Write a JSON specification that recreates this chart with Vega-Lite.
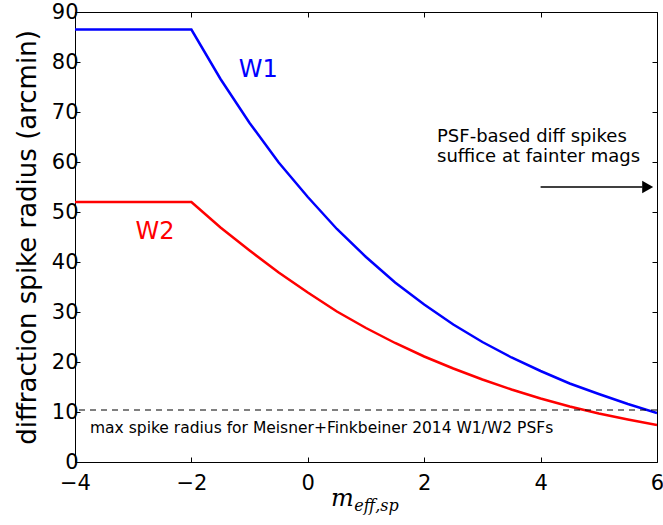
{
  "$schema": "https://vega.github.io/schema/vega-lite/v6.json",
  "width": 582,
  "height": 450,
  "autosize": {"type": "none"},
  "padding": {"left": 75, "top": 12, "right": 6, "bottom": 63},
  "background": "white",
  "config": {
    "view": {"stroke": "black", "strokeWidth": 1},
    "font": "DejaVu Sans",
    "axis": {
      "domain": false,
      "grid": false,
      "tickColor": "black",
      "tickSize": -5,
      "tickWidth": 1,
      "labelFont": "DejaVu Sans",
      "labelFontSize": 21,
      "labelColor": "black",
      "titleFont": "DejaVu Sans",
      "titleColor": "black",
      "titleFontWeight": "normal"
    }
  },
  "resolve": {"axis": {"x": "independent", "y": "independent"}},
  "layer": [
    {
      "data": {
        "values": [
          {"band": "W1", "m": -4, "r": 86.5},
          {"band": "W1", "m": -2, "r": 86.5},
          {"band": "W1", "m": -1.5, "r": 76.6},
          {"band": "W1", "m": -1, "r": 67.8},
          {"band": "W1", "m": -0.5, "r": 59.9},
          {"band": "W1", "m": 0, "r": 53.0},
          {"band": "W1", "m": 0.5, "r": 46.6},
          {"band": "W1", "m": 1, "r": 41.0},
          {"band": "W1", "m": 1.5, "r": 35.9},
          {"band": "W1", "m": 2, "r": 31.5},
          {"band": "W1", "m": 2.5, "r": 27.5},
          {"band": "W1", "m": 3, "r": 24.0},
          {"band": "W1", "m": 3.5, "r": 20.9},
          {"band": "W1", "m": 4, "r": 18.2},
          {"band": "W1", "m": 4.5, "r": 15.7},
          {"band": "W1", "m": 5, "r": 13.6},
          {"band": "W1", "m": 5.5, "r": 11.6},
          {"band": "W1", "m": 6, "r": 9.8},
          {"band": "W2", "m": -4, "r": 52.0},
          {"band": "W2", "m": -2, "r": 52.0},
          {"band": "W2", "m": -1.5, "r": 46.9},
          {"band": "W2", "m": -1, "r": 42.3},
          {"band": "W2", "m": -0.5, "r": 37.9},
          {"band": "W2", "m": 0, "r": 33.9},
          {"band": "W2", "m": 0.5, "r": 30.1},
          {"band": "W2", "m": 1, "r": 26.8},
          {"band": "W2", "m": 1.5, "r": 23.8},
          {"band": "W2", "m": 2, "r": 21.1},
          {"band": "W2", "m": 2.5, "r": 18.7},
          {"band": "W2", "m": 3, "r": 16.5},
          {"band": "W2", "m": 3.5, "r": 14.5},
          {"band": "W2", "m": 4, "r": 12.7},
          {"band": "W2", "m": 4.5, "r": 11.1},
          {"band": "W2", "m": 5, "r": 9.7},
          {"band": "W2", "m": 5.5, "r": 8.5},
          {"band": "W2", "m": 6, "r": 7.4}
        ]
      },
      "mark": {"type": "line", "strokeWidth": 2.5, "interpolate": "linear", "clip": true},
      "encoding": {
        "x": {
          "field": "m", "type": "quantitative",
          "scale": {"domain": [-4, 6], "nice": false},
          "axis": {"orient": "bottom", "values": [-4, -2, 0, 2, 4, 6], "title": null, "labelPadding": 15, "labelFlush": false}
        },
        "y": {
          "field": "r", "type": "quantitative",
          "scale": {"domain": [0, 90], "nice": false},
          "axis": {"orient": "left", "values": [0, 10, 20, 30, 40, 50, 60, 70, 80, 90], "title": "diffraction spike radius (arcmin)", "titleFontSize": 26, "labelPadding": 2, "titlePadding": 11}
        },
        "color": {"field": "band", "type": "nominal", "scale": {"domain": ["W1", "W2"], "range": ["#0000ff", "#ff0000"]}, "legend": null}
      }
    },
    {
      "data": {"values": [{"r": 10.4}]},
      "mark": {"type": "rule", "strokeDash": [6, 5], "strokeWidth": 1.2, "color": "black"},
      "encoding": {
        "y": {"field": "r", "type": "quantitative", "axis": {"orient": "right", "values": [0, 10, 20, 30, 40, 50, 60, 70, 80, 90], "labels": false, "title": null}}
      }
    },
    {
      "data": {"values": [{"m": 4.0, "r": 55.0}, {"m": 5.75, "r": 55.0}]},
      "mark": {"type": "line", "strokeWidth": 1.5, "color": "black"},
      "encoding": {
        "x": {"field": "m", "type": "quantitative", "axis": {"orient": "top", "values": [-4, -2, 0, 2, 4, 6], "labels": false, "title": null}},
        "y": {"field": "r", "type": "quantitative", "axis": null}
      }
    },
    {
      "data": {"values": [{"m": 5.84, "r": 55.0}]},
      "mark": {"type": "point", "shape": "triangle-right", "filled": true, "color": "black", "size": 160, "opacity": 1},
      "encoding": {
        "x": {"field": "m", "type": "quantitative", "axis": null},
        "y": {"field": "r", "type": "quantitative", "axis": null}
      }
    },
    {
      "data": {"values": [{"m": -0.85, "r": 77.0, "label": "W1"}]},
      "mark": {"type": "text", "color": "#0000ff", "fontSize": 24, "align": "center", "baseline": "alphabetic", "font": "DejaVu Sans"},
      "encoding": {
        "x": {"field": "m", "type": "quantitative", "axis": null},
        "y": {"field": "r", "type": "quantitative", "axis": null},
        "text": {"field": "label"}
      }
    },
    {
      "data": {"values": [{"m": -2.625, "r": 44.6, "label": "W2"}]},
      "mark": {"type": "text", "color": "#ff0000", "fontSize": 24, "align": "center", "baseline": "alphabetic", "font": "DejaVu Sans"},
      "encoding": {
        "x": {"field": "m", "type": "quantitative", "axis": null},
        "y": {"field": "r", "type": "quantitative", "axis": null},
        "text": {"field": "label"}
      }
    },
    {
      "data": {"values": [
        {"m": 2.22, "r": 64.0, "label": "PSF-based diff spikes"},
        {"m": 2.22, "r": 60.0, "label": "suffice at fainter mags"}
      ]},
      "mark": {"type": "text", "color": "black", "fontSize": 18, "align": "left", "baseline": "alphabetic", "font": "DejaVu Sans"},
      "encoding": {
        "x": {"field": "m", "type": "quantitative", "axis": null},
        "y": {"field": "r", "type": "quantitative", "axis": null},
        "text": {"field": "label"}
      }
    },
    {
      "data": {"values": [{"m": -3.742, "r": 5.8, "label": "max spike radius for Meisner+Finkbeiner 2014 W1/W2 PSFs"}]},
      "mark": {"type": "text", "color": "black", "fontSize": 15.5, "align": "left", "baseline": "alphabetic", "font": "DejaVu Sans"},
      "encoding": {
        "x": {"field": "m", "type": "quantitative", "axis": null},
        "y": {"field": "r", "type": "quantitative", "axis": null},
        "text": {"field": "label"}
      }
    },
    {
      "data": {"values": [{"m": 0.596, "r": -8.8, "label": "m"}]},
      "mark": {"type": "text", "color": "black", "fontSize": 24, "fontStyle": "italic", "align": "center", "baseline": "alphabetic", "font": "DejaVu Serif"},
      "encoding": {
        "x": {"field": "m", "type": "quantitative", "axis": null},
        "y": {"field": "r", "type": "quantitative", "axis": null},
        "text": {"field": "label"}
      }
    },
    {
      "data": {"values": [{"m": 0.80, "r": -9.8, "label": "eff,sp"}]},
      "mark": {"type": "text", "color": "black", "fontSize": 16, "fontStyle": "italic", "align": "left", "baseline": "alphabetic", "font": "DejaVu Serif"},
      "encoding": {
        "x": {"field": "m", "type": "quantitative", "axis": null},
        "y": {"field": "r", "type": "quantitative", "axis": null},
        "text": {"field": "label"}
      }
    }
  ]
}
